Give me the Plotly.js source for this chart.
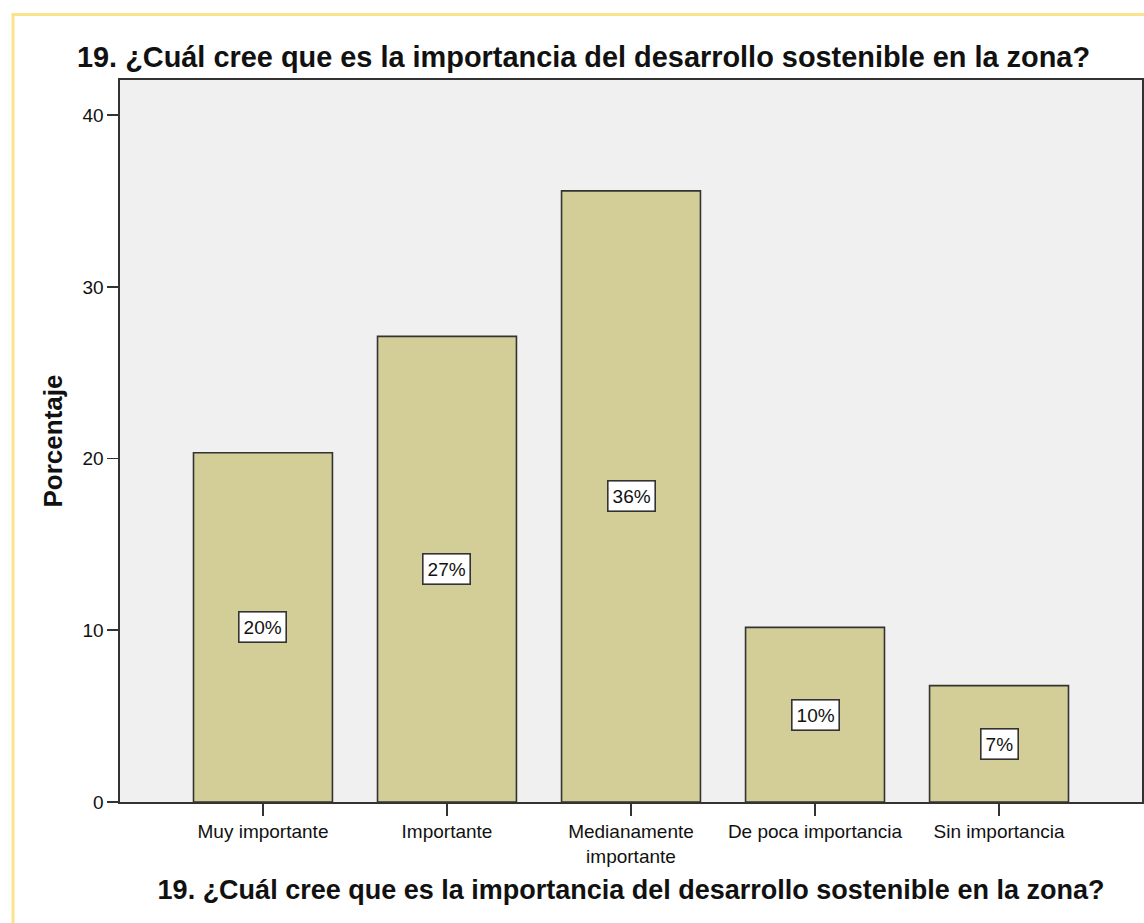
<!DOCTYPE html>
<html>
<head>
<meta charset="utf-8">
<script src="https://cdn.plot.ly/plotly-3.0.1.min.js"></script>
<style>
  html, body { margin: 0; padding: 0; background: #ffffff; }
  #chart { width: 1144px; height: 923px; }
</style>
</head>
<body>
<div id="chart"></div>
<script>
// ---- data ----
const categories = ["Muy importante", "Importante", "Medianamente<br>importante", "De poca importancia", "Sin importancia"];
const percentages = [20.34, 27.12, 35.59, 10.17, 6.78];
const yTickValues = [0, 10, 20, 30, 40];
const chartTitle = "19. ¿Cuál cree que es la importancia del desarrollo sostenible en la zona?";
const yAxisTitle = "Porcentaje";

// ---- layout constants ----
const W = 1144, H = 923;
const M = { l: 120, r: 2, t: 80, b: 121 };
const plotW = W - M.l - M.r, plotH = H - M.t - M.b;
const FONT = "Liberation Sans, Arial, Helvetica, sans-serif";

const trace = {
  type: "bar",
  x: categories,
  y: percentages,
  width: 0.755,
  marker: { color: "#d3ce97", line: { color: "#333333", width: 1.6 } },
  hoverinfo: "x+y"
};

const labelAnnotations = categories.map((c, i) => ({
  x: c, y: percentages[i] / 2, xref: "x", yref: "y",
  text: Math.round(percentages[i]) + "%",
  showarrow: false,
  font: { family: FONT, size: 19, color: "#111111" },
  bgcolor: "#ffffff",
  bordercolor: "#333333",
  borderwidth: 1.6,
  borderpad: 4
}));

// yellow frame around the whole picture (pixel -> paper)
const px2x = p => (p - M.l) / plotW;
const py2y = p => (H - M.b - p) / plotH;

const layout = {
  width: W, height: H,
  margin: M,
  paper_bgcolor: "#ffffff",
  plot_bgcolor: "#f0f0f0",
  showlegend: false,
  font: { family: FONT, color: "#111111" },
  title: {
    text: chartTitle,
    font: { family: FONT, size: 28.9, color: "#111111", weight: "bold" },
    x: 583.5 / W, xanchor: "center", xref: "container",
    y: 1 - 57 / H, yanchor: "middle", yref: "container"
  },
  xaxis: {
    type: "category",
    range: [-0.777, 4.777],
    showgrid: false, zeroline: false,
    showline: true, linecolor: "#333333", linewidth: 1.6, mirror: true,
    ticks: "outside", ticklen: 12, tickwidth: 1.6, tickcolor: "#333333",
    tickfont: { family: FONT, size: 19, color: "#111111" },
    title: {
      text: chartTitle,
      font: { family: FONT, size: 27, color: "#111111", weight: "bold" },
      standoff: 14
    },
    automargin: false,
    fixedrange: true
  },
  yaxis: {
    range: [0, 42.05],
    tickvals: yTickValues,
    showgrid: false, zeroline: false,
    showline: true, linecolor: "#333333", linewidth: 1.6, mirror: true,
    ticks: "outside", ticklen: 11, tickwidth: 1.6, tickcolor: "#333333",
    tickfont: { family: FONT, size: 19, color: "#111111" },
    title: {
      text: yAxisTitle,
      font: { family: FONT, size: 26, color: "#111111", weight: "bold" },
      standoff: 12
    },
    automargin: false,
    fixedrange: true
  },
  annotations: labelAnnotations,
  shapes: [{
    type: "rect", xref: "paper", yref: "paper",
    x0: px2x(13), x1: px2x(W + 20),
    y0: py2y(H + 20), y1: py2y(14.5),
    line: { color: "#fbe38c", width: 3 },
    fillcolor: "rgba(0,0,0,0)",
    layer: "below"
  }]
};

Plotly.newPlot("chart", [trace], layout, { staticPlot: true, displayModeBar: false });
</script>
</body>
</html>
